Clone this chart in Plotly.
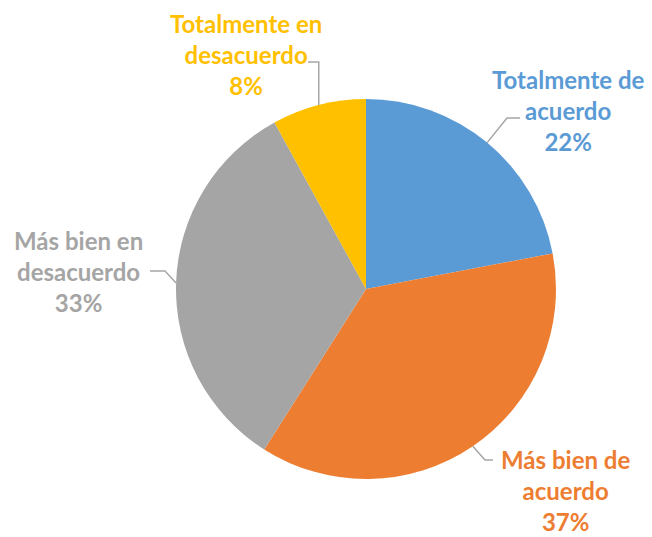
import math
import plotly.graph_objects as go

# slices, clockwise from 12 o'clock
labels = ['Totalmente de<br>acuerdo', 'Más bien de<br>acuerdo',
          'Más bien en<br>desacuerdo', 'Totalmente en<br>desacuerdo']
values = [22, 37, 33, 8]
colors = ['#5B9BD5', '#ED7D31', '#A5A5A5', '#FFC000']

W, H = 652, 537
CX, CY, R = 366, 289, 190

# label block centres and leader line elbow/end points (pixels)
label_pos = [(568, 110), (565, 490), (78, 271), (246, 55)]
leader_pts = [[(507, 118), (520, 118)],
              [(485, 460), (493, 460)],
              [(165, 271), (150, 271)],
              [(None, 62), (308, 62)]]


def px(x, y):
    return x / W, 1 - y / H


fig = go.Figure(go.Pie(
    labels=[l.replace('<br>', ' ') for l in labels],
    values=values,
    sort=False,
    direction='clockwise',
    rotation=0,
    marker=dict(colors=colors, line=dict(width=0)),
    textinfo='none',
    hoverinfo='label+percent',
    domain=dict(x=[(CX - R) / W, (CX + R) / W],
                y=[1 - (CY + R) / H, 1 - (CY - R) / H]),
    showlegend=False,
))

total = sum(values)
cum = 0
shapes = []
annotations = []
for lab, v, c, pos, pts in zip(labels, values, colors, label_pos, leader_pts):
    mid = (cum + v / 2) / total * 2 * math.pi
    cum += v
    ex, ey = CX + R * math.sin(mid), CY - R * math.cos(mid)
    (bx, by), (tx, ty) = pts
    if bx is None:
        bx = ex
    p = [px(ex, ey), px(bx, by), px(tx, ty)]
    path = 'M {} {} L {} {} L {} {}'.format(*[v for q in p for v in q])
    shapes.append(dict(type='path', path=path, xref='paper', yref='paper',
                       line=dict(color='#A6A6A6', width=1.5)))
    lx, ly = px(*pos)
    annotations.append(dict(
        x=lx, y=ly, xref='paper', yref='paper', showarrow=False,
        xanchor='center', yanchor='middle', align='center',
        text='<b>{}<br>{}%</b>'.format(lab, round(v / total * 100)),
        font=dict(family='Lato', size=24, color=c)))

fig.update_layout(
    width=W, height=H,
    margin=dict(l=0, r=0, t=0, b=0),
    paper_bgcolor='white',
    plot_bgcolor='white',
    shapes=shapes,
    annotations=annotations,
)

fig.write_html('out.html', config={'displayModeBar': False},
               post_script="document.body.style.margin='0';")
